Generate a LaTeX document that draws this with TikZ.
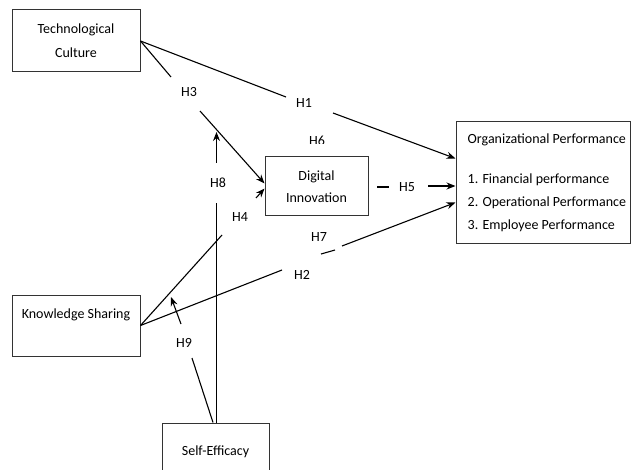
\documentclass[tikz,border=0pt]{standalone}
\usepackage{fontspec}
\setmainfont{Carlito}
\usetikzlibrary{arrows.meta,calc}
\begin{document}
\begin{tikzpicture}[x=1pt,y=-1pt,
  box/.style={draw=black!80,line width=1pt,inner sep=0pt,align=center,font=\fontsize{14}{24}\selectfont},
  hyp/.style={font=\fontsize{14}{17}\selectfont,inner sep=0pt},
  conn/.style={line width=1.1pt},
  arr/.style={conn,-{Stealth[length=9pt,width=7pt]}}]
\useasboundingbox (0,0) rectangle (631,470);
% boxes
\node[box,minimum width=128pt,minimum height=62pt] (tc) at (76,41) {Technological\\Culture};
\node[box,minimum width=128pt,minimum height=61pt] (ks) at (76,325.5) {Knowledge Sharing\\\mbox{}};
\node[box,minimum width=107pt,minimum height=58pt] (se) at (215.5,452) {Self-Efficacy};
\node[box,font=\fontsize{14}{22}\selectfont,minimum width=103pt,minimum height=59pt] (di) at (316.5,186.5) {Digital\\Innovation};
\node[box,minimum width=174pt,minimum height=121pt] (op) at (543,182.5) {};
\node[inner sep=0pt,anchor=west,align=left,font=\fontsize{14}{23}\selectfont] (optext) at (467.5,183)
  {Organizational Performance\\[17pt]1. Financial performance\\2. Operational Performance\\3. Employee Performance};
% labels
\node[hyp] (h1) at (304,103) {H1};
\node[hyp] (h3) at (189,92) {H3};
\node[hyp] (h8) at (218,183) {H8};
\node[hyp] (h4) at (240,217) {H4};
\node[hyp] (h5) at (407,187) {H5};
\node[hyp] (h7) at (319,237) {H7};
\node[hyp] (h2) at (302,275) {H2};
\node[hyp] (h9) at (184,343) {H9};
\begin{scope}
  \clip (290,120) rectangle (345,143.5);
  \node[hyp] (h6) at (317,141) {H6};
\end{scope}
% gap coordinates
\coordinate (h1a) at (286,97);   \coordinate (h1b) at (333,113);
\coordinate (h3a) at (171,77);   \coordinate (h3b) at (200,111);
\coordinate (h4a) at (222,235);  \coordinate (h4b) at (256,198);
\coordinate (h2a) at (282,270);  \coordinate (h2b) at (321,254);
\coordinate (h2c) at (335,250);  \coordinate (h2d) at (342,246);
\coordinate (h5a) at (377,187);  \coordinate (h5b) at (389,187);
\coordinate (h5c) at (428,186);
\coordinate (h8a) at (216.5,203); \coordinate (h8b) at (216.5,163);
\coordinate (h8c) at (216.5,132);
\coordinate (h9a) at (192,358);  \coordinate (h9b) at (181,324);
\coordinate (h9c) at (171,297);
% H1
\draw[conn] (tc.east) -- (h1a);
\draw[arr] (h1b) -- ($(op.west)+(0,-24)$);
% H3
\draw[conn] (tc.east) -- (h3a);
\draw[arr] (h3b) -- ($(di.west)+(0,-3)$);
% H4
\draw[conn] (ks.east) -- (h4a);
\draw[arr] (h4b) -- ($(di.west)+(0,2)$);
% H2 / H7
\draw[conn] (ks.east) -- (h2a);
\draw[conn] (h2b) -- (h2c);
\draw[arr] (h2d) -- ($(op.west)+(0,20)$);
% H5
\draw[conn] (h5a) -- (h5b);
\draw[arr] (h5c) -- ($(op.west)+(0,3.5)$);
% H8
\draw[conn] ($(se.north)+(1,0)$) -- (h8a);
\draw[arr] (h8b) -- (h8c);
% H9
\draw[conn] ($(se.north)+(-2.5,0)$) -- (h9a);
\draw[arr] (h9b) -- (h9c);
\end{tikzpicture}
\end{document}
